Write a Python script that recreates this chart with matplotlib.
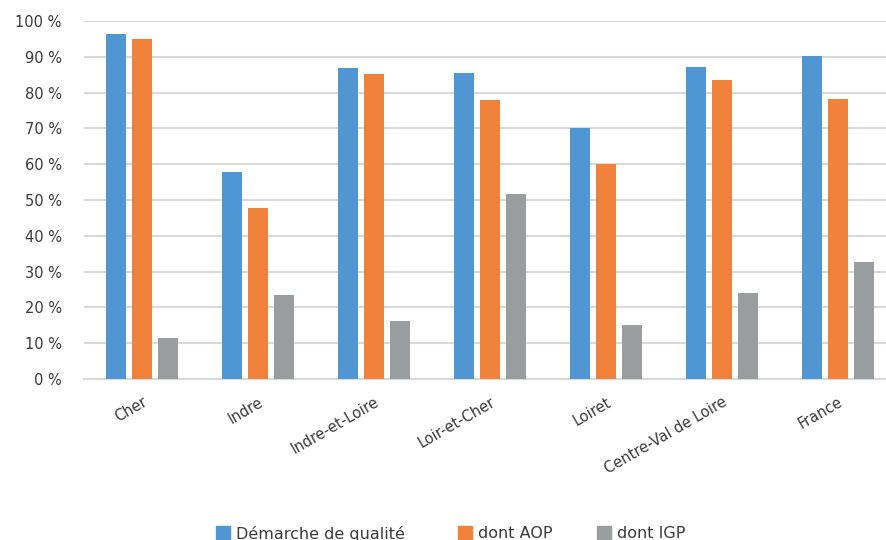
import matplotlib
matplotlib.use("Agg")
import matplotlib.pyplot as plt
import numpy as np
from matplotlib.ticker import FuncFormatter
from matplotlib.patches import Rectangle

categories = ["Cher", "Indre", "Indre-et-Loire", "Loir-et-Cher", "Loiret",
              "Centre-Val de Loire", "France"]
demarche = [96.3, 57.8, 86.9, 85.5, 70.1, 87.1, 90.2]
aop = [95.0, 47.8, 85.3, 77.8, 60.1, 83.4, 78.1]
igp = [11.5, 23.4, 16.1, 51.6, 15.0, 23.9, 32.7]
series_names = ["Démarche de qualité", "dont AOP", "dont IGP"]
colors = ["#5096D2", "#F0823C", "#9A9D9D"]

plt.rcParams['font.family'] = ['DejaVu Sans']
text_color = "#3A3A3A"
fs = 10.5

W, H = 887, 540
fig = plt.figure(figsize=(W / 100, H / 100), dpi=100)
left, right, top, bottom = 84, 896, 21, 379
ax = fig.add_axes([left / W, 1 - bottom / H, (right - left) / W, (bottom - top) / H])

x = np.arange(len(categories))
slot = 0.224
bw = 0.18
for i, (vals, name, c) in enumerate(zip([demarche, aop, igp], series_names, colors)):
    ax.bar(x + (i - 1) * slot, vals, width=bw, color=c, label=name, zorder=3)

ax.set_xlim(-0.5, len(categories) - 0.5)
ax.set_ylim(0, 100)
ax.set_yticks(range(0, 101, 10))
ax.yaxis.set_major_formatter(FuncFormatter(lambda v, p: f"{int(v)} %"))
ax.grid(axis='y', color="#D9D9D9", linewidth=1.5, zorder=0)
for s in ['top', 'right', 'left']:
    ax.spines[s].set_visible(False)
ax.spines['bottom'].set_color("#D9D9D9")
ax.spines['bottom'].set_linewidth(1.5)
ax.tick_params(axis='both', length=0, colors=text_color, labelsize=fs)
ax.tick_params(axis='y', pad=16)
ax.set_xticks(x)
ax.set_xticklabels(categories, rotation=30, ha='right', rotation_mode='anchor')
for lbl in ax.get_xticklabels():
    lbl.set_y(-0.03)

# legend drawn manually to match spacing
leg_x = [216, 458, 597]
sq = 14
for lx, name, c in zip(leg_x, series_names, colors):
    fig.patches.append(Rectangle((lx / W, 0), sq / W, sq / H,
                                 transform=fig.transFigure, color=c))
    fig.text((lx + sq + 6) / W, 1.5 / H, name, fontsize=11.5, color=text_color,
             va='baseline', ha='left')

fig.savefig("out.png", dpi=100)
